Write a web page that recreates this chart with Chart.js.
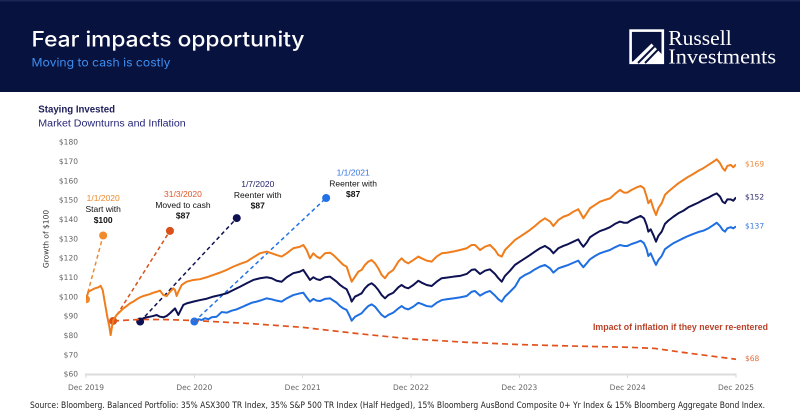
<!DOCTYPE html>
<html>
<head>
<meta charset="utf-8">
<title>Fear impacts opportunity</title>
<script src="https://cdn.jsdelivr.net/npm/chart.js@4.4.1/dist/chart.umd.min.js"></script>
<style>
  html, body { margin: 0; padding: 0; background: #fff; overflow: hidden; }
  #wrap { position: relative; width: 800px; height: 411px; }
</style>
</head>
<body>
<div id="wrap"><canvas id="growth"></canvas></div>
<script>
// x = months since 1 Jan 2020 (the "Dec 2019" tick), 72 = "Dec 2025"
const xTickLabels = ["Dec 2019", "Dec 2020", "Dec 2021", "Dec 2022", "Dec 2023", "Dec 2024", "Dec 2025"];

const laterMonths = [23.7,24.07,24.44,24.81,25.18,25.55,25.92,26.47,27.03,27.4,27.77,28.14,28.5,28.87,29.24,29.43,29.8,30.17,30.53,30.9,31.27,31.64,32.01,32.38,32.75,33.12,33.49,34.04,34.6,34.96,35.33,35.7,36.26,36.81,37.18,37.74,38.29,38.84,39.4,39.95,40.69,41.43,42.17,42.72,43.09,43.65,44.2,44.75,45.31,45.68,46.05,46.41,46.97,47.52,
    48.07,48.63,49.18,49.73,50.29,50.84,51.4,51.77,52.32,52.87,53.43,53.98,54.53,54.79,55.09,55.46,55.83,56.38,56.93,57.49,58.04,58.59,59.15,59.59,59.96,60.44,61,61.44,61.81,62.1,62.29,62.55,62.84,63.14,63.4,63.77,64.13,64.5,65.06,65.61,66.17,66.72,67.27,67.83,68.38,68.94,69.49,69.86,70.23,70.52,70.78,71.04,71.41,71.7,72];

// stayed invested from 1/1/2020
const investedMonths = [0,0.26,0.63,1,1.37,1.62,1.85,2.1,2.36,2.59,2.73,2.88,3.03,3.4,3.77,4.14,4.5,4.87,5.24,5.61,5.98,6.35,6.72,7.09,7.46,7.83,8.2,8.57,8.94,9.3,9.67,9.86,10.04,10.23,10.6,11.15,11.89,12.63,13.37,14.1,14.84,15.58,16.32,17.06,17.8,18.53,19.27,20.01,20.57,21.12,21.67,22.23,22.96].concat(laterMonths);
const investedValues = [99,102.9,103.8,104.7,105.2,106,103.8,96.9,90,84.8,80.5,84.8,88.3,90.9,92.6,94.3,95.5,96.9,97.8,99,100,100.7,101.2,101.7,102.4,102.9,103.5,101.2,100.7,102.9,104.7,103.8,100.7,102.9,106.4,108.1,109,109.4,110.4,111.6,112.8,114.2,115.9,117.3,118.5,120.7,122.8,123.7,122.8,121.9,121.1,122.8,125.4,
    126.2,127.1,124.5,120.2,122.8,121.1,120.2,122.8,123.1,121.9,120.2,118.5,116.8,115.9,110.7,108.1,110.7,113.3,114.2,116.8,118.5,119.3,117.6,115,111.6,109.9,112.4,114.2,118.5,120.2,118.5,117.6,119.3,121.1,120.2,119,118.5,121.1,122.8,123.1,123.7,124.5,125.4,127.1,127.1,124.5,126.2,127.1,124.5,121.9,121.1,124.5,127.1,129.7,
    131.4,133.1,134.9,136.9,139.2,140.9,139.2,136.9,140,141.7,142.6,144.3,145.6,143.5,140.9,143.5,146.1,147.8,149.5,150.4,151.2,153.5,155.6,154.2,154.2,155.6,156.9,157.6,156.4,152.1,148.7,150.4,146.1,142.6,146.1,148.7,153,154.7,156.9,159,160.7,162.4,163.8,165.5,166.8,168.5,170.2,171.4,169.4,166.8,165.5,168,168.5,167.3,168.7];

// re-entered 1/7/2020
const julyMonths = [6,6.35,6.72,7.09,7.46,7.83,8.2,8.57,8.94,9.3,9.86,10.23,10.78,11.15,11.89,12.63,13.37,14.1,14.84,15.58,16.32,17.06,17.8,18.53,19.27,20.01,20.57,21.12,21.67,22.23,22.96].concat(laterMonths);
const julyValues = [87.5,89.2,89.7,90,90.4,90.9,90,89.7,90.4,91.8,94.3,90.9,96.1,96.9,97.8,98.6,99.3,100.4,101.2,102.1,103.8,105.5,107.3,109,109.9,110.4,109.9,108.6,108.1,110.4,112.5,
    113.3,114.2,111.6,109,110.4,109.4,109,110.4,110.7,109.4,108.1,106.4,105.2,104.2,100.4,97.8,100.4,101.2,102.1,104.7,106.4,107.3,105.9,103.8,101.2,99.5,101.2,102.4,105.2,106.4,105.2,104.7,106.4,108.6,107.6,106.4,105.9,108.1,109.9,110.2,110.7,111.1,112.1,114.2,114.5,112.1,113.8,114.5,112.1,109.9,108.1,111.1,113.8,116.8,
    118.5,120.2,121.9,123.7,125.4,126.6,124.9,122.8,125.4,126.6,127.6,128.8,130,128,126.2,128.3,131.1,132.8,134.3,135.2,136.3,138,139.2,138.6,138.6,140,141.2,142.1,140.9,137.4,134,135.2,132.3,128.8,131.8,134,138,139.7,141.7,143.5,144.8,146.6,147.8,149,150.4,151.6,153,153.8,152.1,149.5,148.7,150.7,150.7,150,151.7];

// re-entered 1/1/2021
const janMonths = [12,12.45,12.81,13.18,13.55,13.92,14.47,15.03,15.58,16.13,16.69,17.24,17.8,18.35,18.9,19.46,20.01,20.57,21.12,21.67,22.23,22.96].concat(laterMonths);
const janValues = [87.5,88.7,88.3,89.2,88.7,89.7,90,92.4,92.1,93.1,93.8,94.9,96.1,97.2,97.8,98.6,99.5,99,98.3,97.8,99.5,101.2,
    102.1,102.4,100,97.8,99.2,98.3,98.1,99.2,99.5,98.3,97.2,95.5,94.3,93.5,90,87.9,90,90.9,91.8,93.8,95.5,96.4,95.2,93,90.9,89.7,90.9,92.1,94.3,95.5,94.3,93.8,95.2,97.2,96.6,95.5,95.2,97.2,98.6,99,99.5,100,100.7,102.9,103.3,100.9,102.4,103.3,100.9,99,97.8,100.4,102.9,105.5,
    109.9,111.6,112.8,114.5,115.9,116.8,115,112.8,115,115.9,116.8,117.9,119,117.3,115.6,117.6,119.7,121.4,122.8,123.7,124.5,125.9,127.1,126.6,126.6,127.6,128.5,129.3,128,124.9,121.4,122.8,119.7,116.8,119.3,121.4,124.9,126.2,128,129.3,130.6,131.8,132.8,133.8,134.5,135.7,137.4,138.6,136.9,134.9,134,135.7,136.3,135.7,136.7];

// cash eroded by inflation from 31/3/2020
const cashMonths = [3,6,9,12,18,24,30,36,42,48,54,60,63,66,69,72];
const cashValues = [87.8,88.6,88.5,88,86.5,84.5,81.3,78.5,76.8,75.6,74.8,74.2,73.6,71.6,69.8,68];

// call-outs: from the event point to the label dot
const calloutDates = ["1/1/2020", "31/3/2020", "1/7/2020", "1/1/2021"];
const calloutNotes = ["Start with", "Moved to cash", "Reenter with", "Reenter with"];
const calloutAmounts = ["$100", "$87", "$87", "$87"];
const calloutFromMonths = [0, 3, 6, 12];
const calloutFromValues = [99, 87.8, 87.5, 87.5];
const calloutToMonths = [1.9, 9.3, 16.7, 26.6];
const calloutToValues = [132, 134.4, 141, 151.4];

const ORANGE = "#f07d1c";
const NAVY = "#0e1152";
const BLUE = "#1f6fe2";
const RUST = "#e2511c";
const calloutColors = ["#f08a2c", "#d9501b", NAVY, "#2272e6"];
const calloutTextColors = ["#ef8a2a", "#e0562a", "#24246e", "#3575e0"];
// label offset from the call-out dot (px)
const calloutOffsets = [[0, -15], [13, -14.5], [21, -11.8], [27, -3.2]];

const BAND = "#08123f";

function zip(xs, ys) {
    return xs.map((x, i) => ({x: x, y: ys[i]}));
}

// draws text squeezed/stretched to a given width
function fitText(ctx, text, x, y, font, width, color, align) {
    ctx.save();
    ctx.font = font;
    ctx.fillStyle = color;
    ctx.textBaseline = "alphabetic";
    const w = ctx.measureText(text).width;
    const sx = width ? width / w : 1;
    let x0 = x;
    if (align === "right") x0 = x - w * sx;
    if (align === "center") x0 = x - w * sx / 2;
    ctx.translate(x0, y);
    ctx.scale(sx, 1);
    ctx.textAlign = "left";
    ctx.fillText(text, 0, 0);
    ctx.restore();
}

const pagePlugin = {
    id: "page",
    beforeDraw(chart) {
        const ctx = chart.ctx;
        ctx.save();
        ctx.fillStyle = "#fff";
        ctx.fillRect(0, 0, chart.width, chart.height);
        ctx.fillStyle = BAND;
        ctx.fillRect(0, 0, chart.width, 92);
        ctx.fillStyle = "#1c2656";
        ctx.fillRect(0, 0, chart.width, 1.5);

        fitText(ctx, "Fear impacts opportunity", 31.5, 46.7, "500 21px Inter", 273, "#ffffff");
        fitText(ctx, "Moving to cash is costly", 31.5, 66.5, "400 11.5px Inter", 139, "#3d8ef0");

        // logo
        ctx.strokeStyle = "#fff";
        ctx.lineWidth = 2.6;
        ctx.strokeRect(630.6, 30.6, 32.2, 32.2);
        ctx.fillStyle = "#fff";
        ctx.beginPath();
        ctx.moveTo(632.5, 62);
        ctx.lineTo(651.5, 43.5);
        ctx.lineTo(661.5, 54);
        ctx.lineTo(661.5, 62);
        ctx.closePath();
        ctx.fill();
        ctx.strokeStyle = BAND;
        ctx.lineWidth = 2;
        ctx.beginPath();
        ctx.moveTo(638, 63); ctx.lineTo(654.4, 46.4);
        ctx.moveTo(645, 63); ctx.lineTo(657.8, 49.8);
        ctx.stroke();
        fitText(ctx, "Russell", 668.3, 45.2, "21px 'Liberation Serif'", 63.4, "#ffffff");
        fitText(ctx, "Investments", 668.3, 63.3, "21px 'Liberation Serif'", 107.7, "#ffffff");

        // chart heading
        fitText(ctx, "Staying Invested", 38.3, 112.5, "bold 10px 'Liberation Sans'", 76.7, "#1d1d5c");
        fitText(ctx, "Market Downturns and Inflation", 38.3, 126.3, "10px 'Liberation Sans'", 147.4, "#26267a");

        // source
        fitText(ctx, "Source: Bloomberg. Balanced Portfolio: 35% ASX300 TR Index, 35% S&P 500 TR Index (Half Hedged), 15% Bloomberg AusBond Composite 0+ Yr Index & 15% Bloomberg Aggregate Bond Index.",
            30, 408, "8.5px 'DejaVu Sans'", 735, "#222222");

        // axis title
        ctx.save();
        ctx.translate(46.5, 239);
        ctx.rotate(-Math.PI / 2);
        ctx.font = "7.5px 'DejaVu Sans'";
        ctx.fillStyle = "#333";
        ctx.textAlign = "center";
        ctx.textBaseline = "middle";
        ctx.fillText("Growth of $100", 0, 0);
        ctx.restore();
        ctx.restore();
    },
    afterDraw(chart) {
        const ctx = chart.ctx;
        const xs = chart.scales.x, ys = chart.scales.y;
        const right = chart.chartArea.right;

        // call-out labels
        ctx.save();
        ctx.textAlign = "center";
        ctx.textBaseline = "middle";
        calloutDates.forEach((d, i) => {
            const px = xs.getPixelForValue(calloutToMonths[i]) + calloutOffsets[i][0];
            const py = ys.getPixelForValue(calloutToValues[i]) + calloutOffsets[i][1];
            ctx.font = "bold 8.5px 'Liberation Sans'";
            ctx.fillStyle = "#111";
            ctx.fillText(calloutAmounts[i], px, py);
            ctx.font = "8.5px 'Liberation Sans'";
            ctx.fillText(calloutNotes[i], px, py - 10.8);
            ctx.fillStyle = calloutTextColors[i];
            ctx.fillText(d, px, py - 21.6);
        });

        // end values
        ctx.textAlign = "left";
        ctx.font = "7.5px 'DejaVu Sans'";
        const ends = [
            [investedValues, "#f08a3a"],
            [julyValues, "#2a2a6a"],
            [janValues, "#3a7ae0"],
            [cashValues, "#e86a3a"]
        ];
        ends.forEach(([vals, col]) => {
            const v = vals[vals.length - 1];
            ctx.fillStyle = col;
            ctx.fillText("$" + Math.round(v), right + 9, ys.getPixelForValue(v));
        });
        ctx.restore();

        fitText(ctx, "Impact of inflation if they never re-entered", 768, 330, "bold 9.3px 'Liberation Sans'", 175, "#b8432a", "right");
    }
};

const lineSet = (label, data, color, width, dash) => ({
    label: label,
    data: data,
    borderColor: color,
    backgroundColor: color,
    borderWidth: width,
    borderDash: dash || [],
    borderJoinStyle: "round",
    pointRadius: 0,
    tension: 0,
    fill: false
});

const datasets = [
    lineSet("Reenter 1/1/2021", zip(janMonths, janValues), BLUE, 2),
    lineSet("Reenter 1/7/2020", zip(julyMonths, julyValues), NAVY, 2),
    lineSet("Stay invested", zip(investedMonths, investedValues), ORANGE, 2),
    lineSet("Cash with inflation", zip(cashMonths, cashValues), RUST, 1.7, [6, 4])
];

calloutDates.forEach((d, i) => {
    const set = lineSet(d, [
        {x: calloutFromMonths[i], y: calloutFromValues[i]},
        {x: calloutToMonths[i], y: calloutToValues[i]}
    ], calloutColors[i], 1.5, [4, 3]);
    set.pointRadius = 4;
    set.pointBorderWidth = 0;
    set.pointBackgroundColor = calloutColors[i];
    datasets.push(set);
});

const config = {
    type: "line",
    data: {datasets: datasets},
    plugins: [pagePlugin],
    options: {
        responsive: true,
        maintainAspectRatio: false,
        animation: false,
        devicePixelRatio: 2,
        layout: {padding: {left: 0, top: 142.7, right: 64, bottom: 14.3}},
        plugins: {legend: {display: false}, tooltip: {enabled: false}},
        scales: {
            x: {
                type: "linear",
                min: 0,
                max: 72,
                afterFit: (scale) => { scale.height = 22; },
                ticks: {
                    stepSize: 12,
                    padding: 6,
                    color: "#666",
                    font: {family: "DejaVu Sans", size: 7.5},
                    maxRotation: 0,
                    callback: (v) => xTickLabels[v / 12]
                },
                grid: {display: true, drawOnChartArea: false, drawTicks: true, tickLength: 3, color: "#d9d9d9"},
                border: {display: true, color: "#dcdcdc", width: 2}
            },
            y: {
                min: 60,
                max: 180,
                afterFit: (scale) => { scale.width = 86; },
                ticks: {
                    stepSize: 10,
                    padding: 8,
                    color: "#666",
                    font: {family: "DejaVu Sans", size: 7.5},
                    callback: (v) => "$" + v
                },
                grid: {display: false, drawTicks: false},
                border: {display: false}
            }
        }
    }
};

const growthChart = new Chart(document.getElementById("growth"), config);
</script>
</body>
</html>
